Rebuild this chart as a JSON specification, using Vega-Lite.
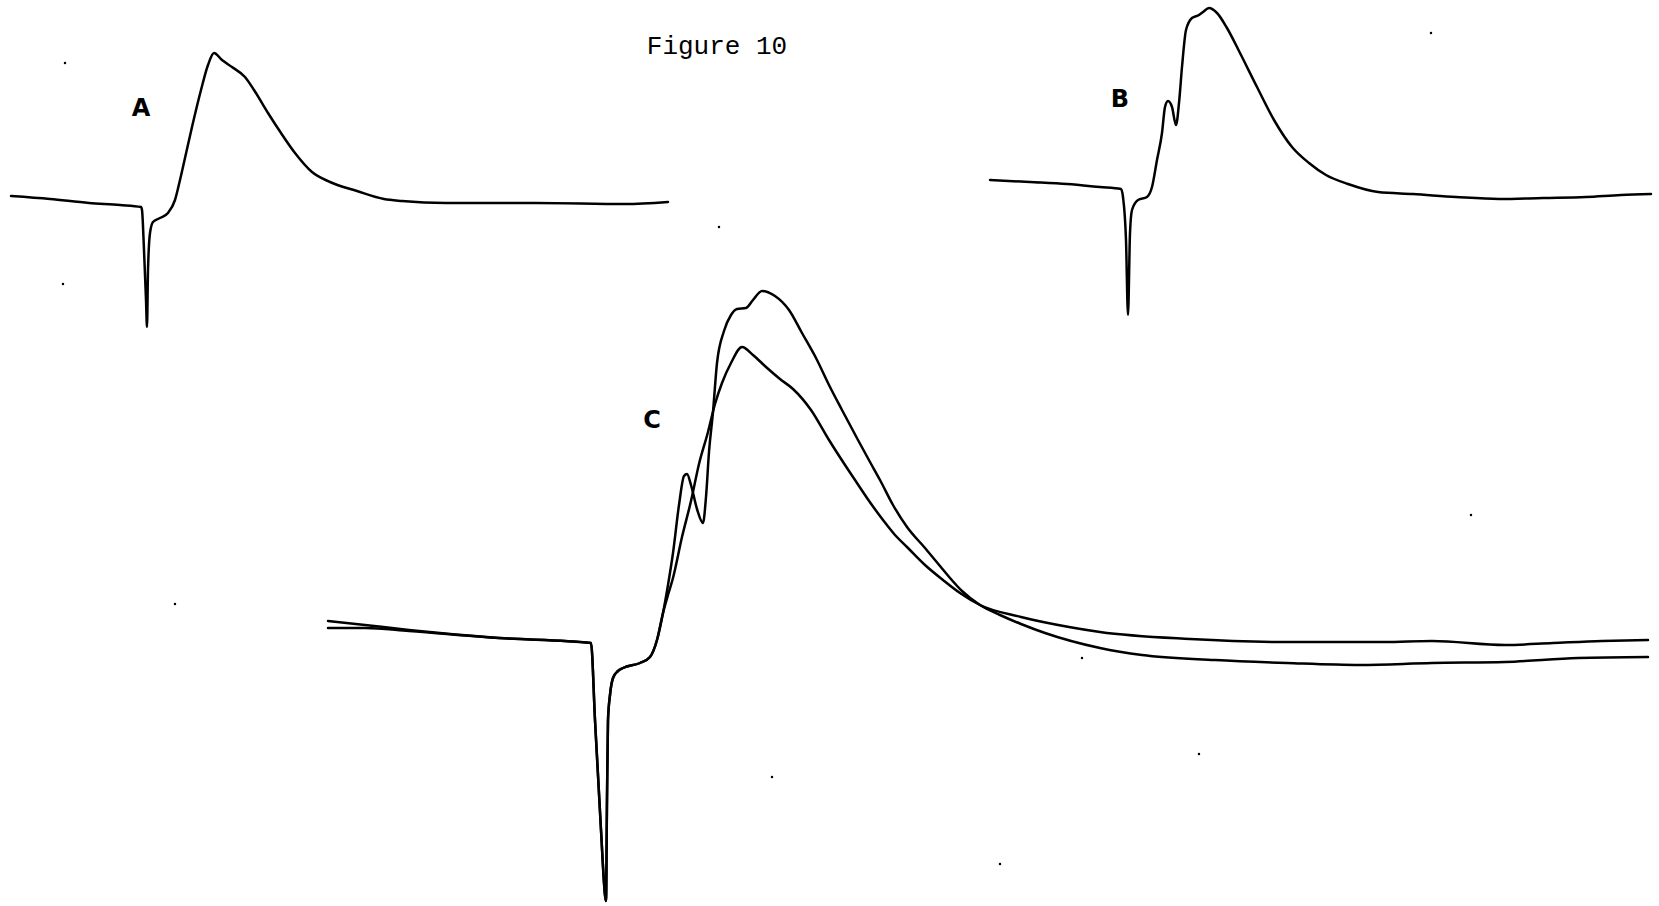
{
  "$schema": "https://vega.github.io/schema/vega-lite/v6.json",
  "autosize": {"type": "fit", "contains": "padding"},
  "width": 1659,
  "height": 906,
  "padding": 0,
  "background": "white",
  "config": {"view": {"stroke": null}},
  "datasets": {
    "traces": [
      {"trace": "A", "x": 11, "y": 196}, {"trace": "A", "x": 50, "y": 199}, {"trace": "A", "x": 89, "y": 203}, {"trace": "A", "x": 120, "y": 205}, {"trace": "A", "x": 141, "y": 207},
      {"trace": "A", "x": 142, "y": 210}, {"trace": "A", "x": 144, "y": 250}, {"trace": "A", "x": 146, "y": 300}, {"trace": "A", "x": 147, "y": 327}, {"trace": "A", "x": 148, "y": 270},
      {"trace": "A", "x": 150, "y": 233}, {"trace": "A", "x": 153, "y": 222}, {"trace": "A", "x": 160, "y": 218}, {"trace": "A", "x": 168, "y": 213},
      {"trace": "A", "x": 175, "y": 200}, {"trace": "A", "x": 180, "y": 180}, {"trace": "A", "x": 185, "y": 158}, {"trace": "A", "x": 192, "y": 127}, {"trace": "A", "x": 201, "y": 90}, {"trace": "A", "x": 208, "y": 65},
      {"trace": "A", "x": 214, "y": 53}, {"trace": "A", "x": 222, "y": 60}, {"trace": "A", "x": 232, "y": 67}, {"trace": "A", "x": 245, "y": 77}, {"trace": "A", "x": 254, "y": 90},
      {"trace": "A", "x": 268, "y": 113}, {"trace": "A", "x": 281, "y": 133}, {"trace": "A", "x": 295, "y": 153}, {"trace": "A", "x": 312, "y": 172}, {"trace": "A", "x": 330, "y": 182},
      {"trace": "A", "x": 357, "y": 191}, {"trace": "A", "x": 384, "y": 199}, {"trace": "A", "x": 402, "y": 201}, {"trace": "A", "x": 446, "y": 203}, {"trace": "A", "x": 536, "y": 203},
      {"trace": "A", "x": 625, "y": 204}, {"trace": "A", "x": 668, "y": 202},

      {"trace": "B", "x": 990, "y": 180}, {"trace": "B", "x": 1030, "y": 182}, {"trace": "B", "x": 1067, "y": 184}, {"trace": "B", "x": 1100, "y": 187}, {"trace": "B", "x": 1121, "y": 189},
      {"trace": "B", "x": 1123, "y": 197}, {"trace": "B", "x": 1126, "y": 240}, {"trace": "B", "x": 1128, "y": 315}, {"trace": "B", "x": 1130, "y": 233}, {"trace": "B", "x": 1132, "y": 210},
      {"trace": "B", "x": 1138, "y": 200}, {"trace": "B", "x": 1147, "y": 197}, {"trace": "B", "x": 1152, "y": 187}, {"trace": "B", "x": 1157, "y": 160}, {"trace": "B", "x": 1162, "y": 133},
      {"trace": "B", "x": 1165, "y": 107}, {"trace": "B", "x": 1168, "y": 101}, {"trace": "B", "x": 1172, "y": 107}, {"trace": "B", "x": 1176, "y": 125}, {"trace": "B", "x": 1179, "y": 103},
      {"trace": "B", "x": 1182, "y": 67}, {"trace": "B", "x": 1186, "y": 30}, {"trace": "B", "x": 1192, "y": 18}, {"trace": "B", "x": 1199, "y": 15}, {"trace": "B", "x": 1203, "y": 12},
      {"trace": "B", "x": 1209, "y": 8}, {"trace": "B", "x": 1217, "y": 13}, {"trace": "B", "x": 1227, "y": 28}, {"trace": "B", "x": 1240, "y": 53}, {"trace": "B", "x": 1257, "y": 87},
      {"trace": "B", "x": 1274, "y": 120}, {"trace": "B", "x": 1292, "y": 147}, {"trace": "B", "x": 1309, "y": 163}, {"trace": "B", "x": 1326, "y": 175}, {"trace": "B", "x": 1348, "y": 184},
      {"trace": "B", "x": 1378, "y": 192}, {"trace": "B", "x": 1413, "y": 194}, {"trace": "B", "x": 1456, "y": 197}, {"trace": "B", "x": 1499, "y": 199}, {"trace": "B", "x": 1543, "y": 198},
      {"trace": "B", "x": 1586, "y": 197}, {"trace": "B", "x": 1621, "y": 195}, {"trace": "B", "x": 1651, "y": 194},

      {"trace": "C1", "x": 328, "y": 628}, {"trace": "C1", "x": 365, "y": 628}, {"trace": "C1", "x": 409, "y": 631}, {"trace": "C1", "x": 499, "y": 638}, {"trace": "C1", "x": 591, "y": 643},
      {"trace": "C1", "x": 595, "y": 720}, {"trace": "C1", "x": 601, "y": 830}, {"trace": "C1", "x": 605, "y": 895}, {"trace": "C1", "x": 606, "y": 901}, {"trace": "C1", "x": 607, "y": 800},
      {"trace": "C1", "x": 608, "y": 720}, {"trace": "C1", "x": 610, "y": 695}, {"trace": "C1", "x": 613, "y": 678}, {"trace": "C1", "x": 618, "y": 671}, {"trace": "C1", "x": 623, "y": 668},
      {"trace": "C1", "x": 640, "y": 663}, {"trace": "C1", "x": 650, "y": 657}, {"trace": "C1", "x": 657, "y": 640}, {"trace": "C1", "x": 663, "y": 613},
      {"trace": "C1", "x": 668, "y": 585}, {"trace": "C1", "x": 673, "y": 553}, {"trace": "C1", "x": 679, "y": 505}, {"trace": "C1", "x": 684, "y": 476},
      {"trace": "C1", "x": 687, "y": 474}, {"trace": "C1", "x": 691, "y": 485}, {"trace": "C1", "x": 697, "y": 509}, {"trace": "C1", "x": 703, "y": 523}, {"trace": "C1", "x": 706, "y": 497},
      {"trace": "C1", "x": 709, "y": 452}, {"trace": "C1", "x": 713, "y": 412}, {"trace": "C1", "x": 717, "y": 363}, {"trace": "C1", "x": 724, "y": 331}, {"trace": "C1", "x": 731, "y": 315},
      {"trace": "C1", "x": 737, "y": 309}, {"trace": "C1", "x": 746, "y": 308}, {"trace": "C1", "x": 753, "y": 300}, {"trace": "C1", "x": 762, "y": 291}, {"trace": "C1", "x": 775, "y": 296},
      {"trace": "C1", "x": 789, "y": 310}, {"trace": "C1", "x": 802, "y": 333}, {"trace": "C1", "x": 816, "y": 358}, {"trace": "C1", "x": 829, "y": 385}, {"trace": "C1", "x": 842, "y": 410},
      {"trace": "C1", "x": 858, "y": 440}, {"trace": "C1", "x": 870, "y": 462}, {"trace": "C1", "x": 880, "y": 480}, {"trace": "C1", "x": 893, "y": 505}, {"trace": "C1", "x": 907, "y": 527},
      {"trace": "C1", "x": 925, "y": 548}, {"trace": "C1", "x": 940, "y": 566}, {"trace": "C1", "x": 950, "y": 578}, {"trace": "C1", "x": 962, "y": 591}, {"trace": "C1", "x": 980, "y": 605},
      {"trace": "C1", "x": 1000, "y": 615}, {"trace": "C1", "x": 1021, "y": 624}, {"trace": "C1", "x": 1045, "y": 633}, {"trace": "C1", "x": 1100, "y": 648}, {"trace": "C1", "x": 1142, "y": 655},
      {"trace": "C1", "x": 1215, "y": 660}, {"trace": "C1", "x": 1287, "y": 663}, {"trace": "C1", "x": 1360, "y": 665}, {"trace": "C1", "x": 1432, "y": 663}, {"trace": "C1", "x": 1505, "y": 662},
      {"trace": "C1", "x": 1578, "y": 658}, {"trace": "C1", "x": 1648, "y": 657},

      {"trace": "C2", "x": 328, "y": 621}, {"trace": "C2", "x": 365, "y": 625}, {"trace": "C2", "x": 409, "y": 630}, {"trace": "C2", "x": 499, "y": 638}, {"trace": "C2", "x": 591, "y": 643},
      {"trace": "C2", "x": 595, "y": 720}, {"trace": "C2", "x": 601, "y": 830}, {"trace": "C2", "x": 605, "y": 895}, {"trace": "C2", "x": 606, "y": 901}, {"trace": "C2", "x": 607, "y": 800},
      {"trace": "C2", "x": 608, "y": 720}, {"trace": "C2", "x": 610, "y": 695}, {"trace": "C2", "x": 613, "y": 678}, {"trace": "C2", "x": 618, "y": 671}, {"trace": "C2", "x": 623, "y": 668},
      {"trace": "C2", "x": 640, "y": 663}, {"trace": "C2", "x": 650, "y": 657}, {"trace": "C2", "x": 657, "y": 640}, {"trace": "C2", "x": 663, "y": 613},
      {"trace": "C2", "x": 668, "y": 595}, {"trace": "C2", "x": 673, "y": 578}, {"trace": "C2", "x": 682, "y": 537}, {"trace": "C2", "x": 691, "y": 501},
      {"trace": "C2", "x": 699, "y": 464}, {"trace": "C2", "x": 708, "y": 432}, {"trace": "C2", "x": 715, "y": 404}, {"trace": "C2", "x": 722, "y": 383}, {"trace": "C2", "x": 731, "y": 363},
      {"trace": "C2", "x": 742, "y": 347}, {"trace": "C2", "x": 753, "y": 355}, {"trace": "C2", "x": 766, "y": 367}, {"trace": "C2", "x": 780, "y": 379}, {"trace": "C2", "x": 793, "y": 389},
      {"trace": "C2", "x": 811, "y": 410}, {"trace": "C2", "x": 829, "y": 440}, {"trace": "C2", "x": 847, "y": 468}, {"trace": "C2", "x": 855, "y": 480}, {"trace": "C2", "x": 867, "y": 498},
      {"trace": "C2", "x": 883, "y": 520}, {"trace": "C2", "x": 895, "y": 535}, {"trace": "C2", "x": 907, "y": 547}, {"trace": "C2", "x": 925, "y": 565}, {"trace": "C2", "x": 943, "y": 580},
      {"trace": "C2", "x": 960, "y": 593}, {"trace": "C2", "x": 980, "y": 605}, {"trace": "C2", "x": 1021, "y": 617}, {"trace": "C2", "x": 1069, "y": 627}, {"trace": "C2", "x": 1100, "y": 632},
      {"trace": "C2", "x": 1190, "y": 639}, {"trace": "C2", "x": 1287, "y": 642}, {"trace": "C2", "x": 1384, "y": 642}, {"trace": "C2", "x": 1432, "y": 641}, {"trace": "C2", "x": 1505, "y": 645},
      {"trace": "C2", "x": 1553, "y": 643}, {"trace": "C2", "x": 1602, "y": 641}, {"trace": "C2", "x": 1648, "y": 640}
    ],
    "panelLabels": [
      {"label": "A", "x": 141, "y": 109},
      {"label": "B", "x": 1120, "y": 100},
      {"label": "C", "x": 652, "y": 421}
    ],
    "caption": [
      {"label": "Figure 10", "x": 717, "y": 54}
    ],
    "specks": [
      {"x": 65, "y": 63}, {"x": 63, "y": 284}, {"x": 719, "y": 227}, {"x": 1431, "y": 33},
      {"x": 1471, "y": 515}, {"x": 175, "y": 604}, {"x": 1082, "y": 658}, {"x": 772, "y": 777},
      {"x": 1000, "y": 864}, {"x": 1199, "y": 754}
    ]
  },
  "layer": [
    {
      "data": {"name": "traces"},
      "mark": {"type": "line", "color": "black", "interpolate": "monotone", "strokeJoin": "round", "strokeCap": "round"},
      "encoding": {
        "x": {"field": "x", "type": "quantitative", "scale": {"domain": [0, 1659], "nice": false, "zero": false}, "axis": null},
        "y": {"field": "y", "type": "quantitative", "scale": {"domain": [0, 906], "nice": false, "zero": false, "reverse": true}, "axis": null},
        "detail": {"field": "trace"},
        "order": {"value": null},
        "strokeWidth": {"field": "trace", "type": "nominal", "scale": {"domain": ["A", "B", "C1", "C2"], "range": [2.5, 2.5, 2.6, 3.6]}, "legend": null}
      }
    },
    {
      "data": {"name": "specks"},
      "mark": {"type": "point", "filled": true, "color": "black", "size": 6, "opacity": 1},
      "encoding": {
        "x": {"field": "x", "type": "quantitative"},
        "y": {"field": "y", "type": "quantitative"}
      }
    },
    {
      "data": {"name": "panelLabels"},
      "mark": {"type": "text", "font": "DejaVu Sans", "fontWeight": "bold", "fontSize": 24, "align": "center", "baseline": "middle", "color": "black"},
      "encoding": {
        "x": {"field": "x", "type": "quantitative"},
        "y": {"field": "y", "type": "quantitative"},
        "text": {"field": "label"}
      }
    },
    {
      "data": {"name": "caption"},
      "mark": {"type": "text", "font": "Liberation Mono", "fontSize": 26, "align": "center", "baseline": "alphabetic", "color": "black"},
      "encoding": {
        "x": {"field": "x", "type": "quantitative"},
        "y": {"field": "y", "type": "quantitative"},
        "text": {"field": "label"}
      }
    }
  ]
}
